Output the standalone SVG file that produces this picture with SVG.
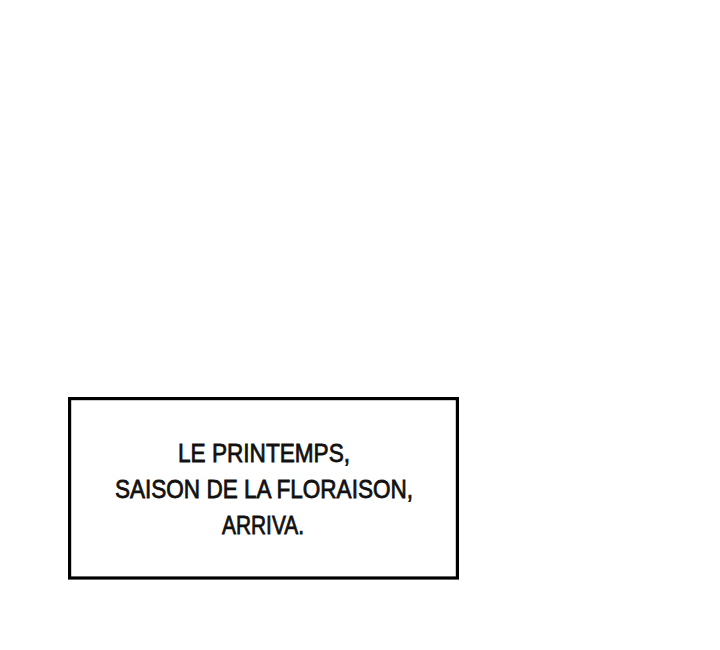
<svg xmlns="http://www.w3.org/2000/svg" width="720" height="650" viewBox="0 0 720 650">
<style>
.box{fill:#fff;stroke:#000;stroke-width:3.2}
.cap{font-family:"Liberation Sans","DejaVu Sans",sans-serif;font-size:26.5px;fill:#111;stroke:#111;stroke-width:0.8;text-anchor:start}
</style>
<rect width="720" height="650" fill="#fff"/>
<g id="caption">
<rect class="box" x="69.6" y="398.6" width="387.8" height="179.4"/>
<text class="cap" x="178" y="462" textLength="172" lengthAdjust="spacingAndGlyphs">LE PRINTEMPS,</text>
<text class="cap" x="115" y="498" textLength="298" lengthAdjust="spacingAndGlyphs">SAISON DE LA FLORAISON,</text>
<text class="cap" x="222" y="534" textLength="82" lengthAdjust="spacingAndGlyphs">ARRIVA.</text>
</g>
<g id="connectors"/>
</svg>
